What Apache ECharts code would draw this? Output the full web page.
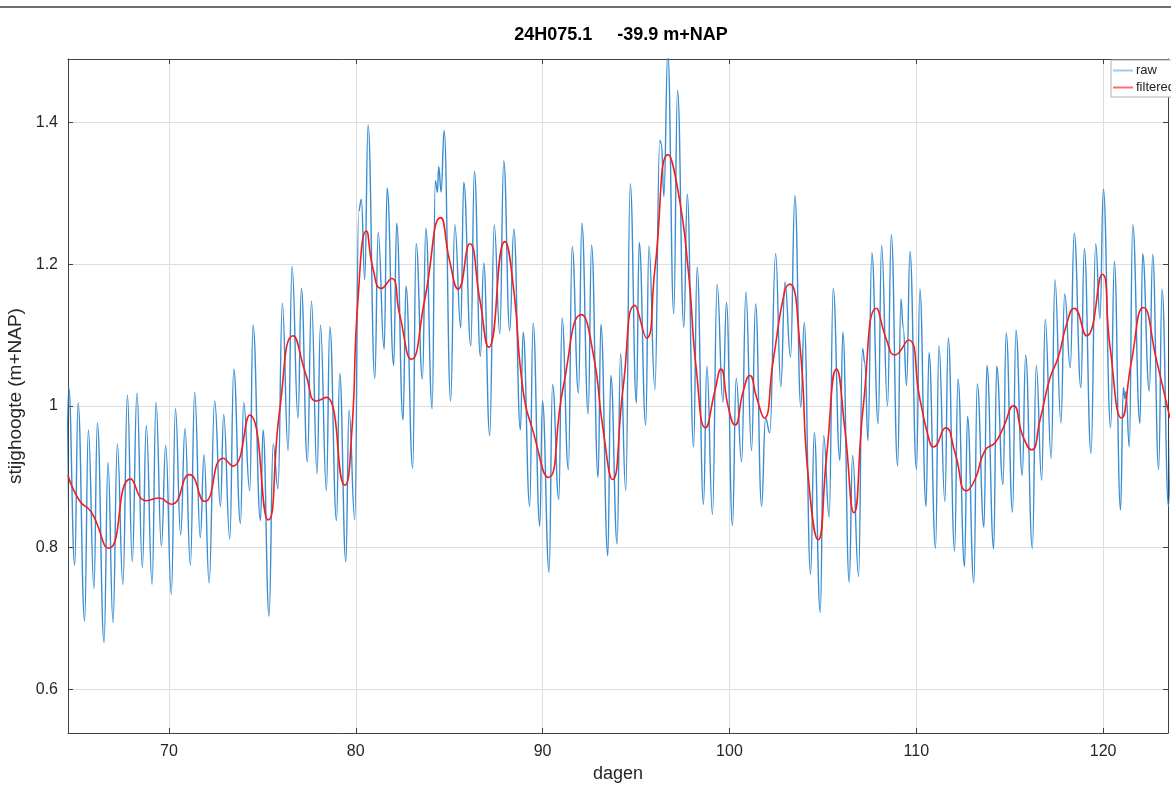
<!DOCTYPE html>
<html>
<head>
<meta charset="utf-8">
<script src="https://cdn.jsdelivr.net/npm/echarts@6/dist/echarts.min.js"></script>
<style>
html,body{margin:0;padding:0;background:#fff;}
#chart{width:1171px;height:793px;}
</style>
</head>
<body>
<div id="chart"></div>
<script>
var titleText = '24H075.1     -39.9 m+NAP';
var xTicks = [70, 80, 90, 100, 110, 120];
var yTicks = [0.6, 0.8, 1.0, 1.2, 1.4];
var seriesNames = ['raw', 'filtered'];

var rawDays = [64.50,64.64,64.96,65.14,65.49,65.69,65.99,66.17,66.53,66.74,67.01,67.24,67.54,67.78,68.04,68.29,68.58,68.79,69.10,69.31,69.60,69.83,70.13,70.35,70.63,70.86,71.15,71.38,71.68,71.88,72.15,72.45,72.76,72.93,73.26,73.47,73.83,74.00,74.33,74.50,74.90,75.04,75.36,75.58,75.84,76.07,76.38,76.59,76.91,77.09,77.41,77.63,77.93,78.11,78.43,78.61,78.97,79.14,79.47,79.64,79.95,80.16,80.30,80.48,80.66,81.02,81.20,81.52,81.68,82.03,82.19,82.53,82.69,83.05,83.23,83.57,83.75,84.09,84.26,84.37,84.44,84.57,84.73,85.08,85.30,85.62,85.78,86.16,86.35,86.67,86.85,87.17,87.41,87.71,87.92,88.24,88.46,88.81,88.96,89.31,89.49,89.85,89.99,90.35,90.53,90.87,91.04,91.38,91.58,91.92,92.10,92.44,92.62,92.97,93.12,93.49,93.65,93.99,94.17,94.45,94.69,95.02,95.17,95.52,95.69,96.01,96.27,96.36,96.49,96.70,97.02,97.22,97.56,97.74,98.08,98.27,98.61,98.79,99.09,99.34,99.65,99.84,100.16,100.36,100.65,100.88,101.18,101.40,101.72,101.93,102.16,102.47,102.75,102.97,103.27,103.50,103.82,104.00,104.34,104.54,104.86,105.04,105.34,105.55,105.91,106.07,106.41,106.59,106.91,107.12,107.25,107.41,107.62,107.96,108.14,108.46,108.66,109.00,109.18,109.30,109.48,109.66,110.01,110.19,110.52,110.68,111.03,111.21,111.53,111.71,112.05,112.23,112.58,112.74,113.08,113.26,113.62,113.78,114.14,114.30,114.64,114.81,115.15,115.33,115.67,115.85,116.21,116.42,116.71,116.90,117.22,117.42,117.74,117.94,118.24,118.45,118.81,118.99,119.35,119.60,119.83,120.01,120.40,120.60,120.93,121.08,121.17,121.22,121.40,121.58,121.97,122.11,122.47,122.65,122.97,123.15,123.50,123.66];
var rawValues = [0.823,1.026,0.775,1.004,0.696,0.966,0.742,0.976,0.666,0.920,0.694,0.946,0.748,1.015,0.780,1.018,0.772,0.972,0.748,1.005,0.802,0.944,0.734,0.996,0.818,0.968,0.775,1.019,0.814,0.931,0.750,1.007,0.858,0.988,0.812,1.052,0.834,1.005,0.880,1.114,0.838,0.966,0.703,0.946,0.883,1.145,0.937,1.197,0.983,1.166,0.921,1.148,0.904,1.114,0.880,1.112,0.838,1.046,0.780,0.994,0.839,1.275,1.292,1.178,1.397,1.039,1.245,1.080,1.308,1.057,1.258,0.980,1.169,0.912,1.229,1.038,1.251,0.996,1.318,1.302,1.338,1.302,1.389,1.007,1.256,1.110,1.316,1.085,1.331,1.070,1.202,0.958,1.256,1.102,1.346,1.106,1.250,0.966,1.104,0.858,1.117,0.830,1.007,0.765,1.030,0.868,1.124,0.910,1.225,1.018,1.258,0.989,1.227,0.899,1.115,0.788,1.043,0.805,1.074,0.880,1.314,1.004,1.231,0.973,1.226,1.023,1.375,1.370,1.296,1.500,1.130,1.446,1.111,1.299,0.942,1.196,0.861,1.056,0.847,1.172,1.005,1.146,0.831,1.039,0.921,1.161,0.937,1.144,0.858,0.983,0.962,1.215,1.027,1.175,1.069,1.297,0.998,1.118,0.762,0.962,0.708,0.958,0.843,1.166,0.923,1.104,0.751,0.930,0.759,1.081,1.060,0.951,1.216,0.975,1.227,1.000,1.242,0.915,1.151,1.110,1.029,1.218,0.910,1.165,0.858,1.075,0.799,1.085,0.865,1.096,0.795,1.038,0.773,0.985,0.750,1.031,0.829,1.057,0.798,1.056,0.889,1.103,0.850,1.107,0.902,1.072,0.799,1.057,0.895,1.122,0.926,1.178,0.976,1.158,1.054,1.244,1.026,1.222,0.933,1.229,1.123,1.306,0.969,1.204,0.853,1.026,1.010,1.020,0.942,1.256,0.975,1.215,1.021,1.214,0.910,1.165,0.858,1.070];

var filtDays = [64.60,65.22,65.85,66.79,67.95,68.79,69.45,70.13,71.11,71.92,72.90,73.43,74.33,75.31,75.93,76.65,77.36,77.89,78.43,79.41,79.77,80.12,80.57,80.93,81.37,81.91,82.35,82.98,83.69,84.55,85.03,85.48,86.10,86.64,87.12,87.98,88.42,88.96,89.49,90.30,91.10,92.08,92.70,93.24,93.74,94.31,94.94,95.56,96.01,96.72,97.26,97.79,98.24,98.72,99.22,99.54,99.93,100.29,100.74,101.09,101.45,101.86,102.34,102.97,103.23,103.77,104.21,104.75,105.20,105.73,106.18,106.66,107.16,107.87,108.41,108.85,109.57,110.19,110.73,110.91,111.57,112.07,112.69,113.14,113.67,114.21,114.65,115.19,115.72,116.17,116.62,117.15,117.60,118.04,118.45,119.11,119.95,120.36,120.99,121.52,122.15,122.86,123.57];
var filtValues = [0.902,0.866,0.850,0.799,0.897,0.866,0.870,0.861,0.903,0.865,0.926,0.915,0.987,0.839,0.994,1.099,1.042,1.007,1.012,0.888,0.956,1.150,1.247,1.193,1.166,1.180,1.129,1.066,1.150,1.266,1.204,1.165,1.229,1.150,1.083,1.232,1.172,1.021,0.964,0.899,1.026,1.129,1.075,0.966,0.896,1.026,1.142,1.096,1.193,1.355,1.302,1.193,1.048,0.969,1.021,1.052,0.999,0.973,1.021,1.043,1.012,0.983,1.064,1.164,1.172,1.086,0.902,0.811,0.929,1.052,0.966,0.849,0.999,1.138,1.093,1.072,1.093,1.010,0.948,0.942,0.969,0.934,0.880,0.896,0.937,0.948,0.969,1.000,0.956,0.938,0.980,1.039,1.069,1.115,1.138,1.099,1.186,1.085,0.983,1.064,1.139,1.064,0.983];

function zip(a, b) { return a.map(function (v, i) { return [v, b[i]]; }); }

var X_MIN = 64.6, X_MAX = 123.47, Y_MIN = 0.538, Y_MAX = 1.49;
var axisCol = '#404040';
var font = 'Liberation Sans, Arial, sans-serif';

var chart = echarts.init(document.getElementById('chart'), null, {renderer: 'canvas'});
chart.setOption({
  animation: false,
  backgroundColor: '#ffffff',
  title: {
    text: titleText, left: 616, top: 21, textAlign: 'center',
    textStyle: {fontFamily: font, fontSize: 18, fontWeight: 'bold', color: '#000'}
  },
  graphic: [{
    type: 'line', shape: {x1: 0, y1: 7, x2: 1171, y2: 7},
    style: {stroke: '#6e6e6e', lineWidth: 2}, silent: true
  }],
  legend: {
    orient: 'vertical', left: 1111, top: 60,
    padding: [4, 4, 3, 2], itemGap: 4, itemWidth: 20, itemHeight: 14,
    symbolKeepAspect: true,
    borderColor: '#b0b0b0', borderWidth: 1, backgroundColor: '#fff',
    textStyle: {fontFamily: font, fontSize: 13, color: '#222', padding: [0, 0, 0, -2]},
    data: [{name: seriesNames[0], icon: 'path://M0,0H20V2H0Z'}, {name: seriesNames[1], icon: 'path://M0,0H20V2H0Z'}]
  },
  grid: {left: 68, right: 3, top: 59, bottom: 60, containLabel: false, outerBoundsMode: 'none'},
  xAxis: [{
    type: 'value', min: X_MIN, max: X_MAX, position: 'bottom',
    name: 'dagen', nameLocation: 'middle', nameGap: 30,
    nameTextStyle: {fontFamily: font, fontSize: 18, color: '#262626'},
    axisLine: {show: true, onZero: false, lineStyle: {color: axisCol, width: 1}},
    axisTick: {show: true, inside: true, length: 5, customValues: xTicks, lineStyle: {color: axisCol}},
    axisLabel: {customValues: xTicks, margin: 11, fontFamily: font, fontSize: 16, color: '#262626'},
    splitLine: {show: true, lineStyle: {color: '#dedede', width: 1}}
  }, {
    type: 'value', min: X_MIN, max: X_MAX, position: 'top',
    axisLine: {show: true, onZero: false, lineStyle: {color: axisCol, width: 1}},
    axisTick: {show: true, inside: true, length: 5, customValues: xTicks, lineStyle: {color: axisCol}},
    axisLabel: {show: false}, splitLine: {show: false}
  }],
  yAxis: [{
    type: 'value', min: Y_MIN, max: Y_MAX, position: 'left',
    name: 'stijghoogte (m+NAP)', nameLocation: 'middle', nameGap: 40, nameRotate: 90,
    nameTextStyle: {fontFamily: font, fontSize: 19, color: '#262626'},
    axisLine: {show: true, onZero: false, lineStyle: {color: axisCol, width: 1}},
    axisTick: {show: true, inside: true, length: 5, customValues: yTicks, lineStyle: {color: axisCol}},
    axisLabel: {customValues: yTicks, margin: 10, fontFamily: font, fontSize: 16, color: '#262626',
      formatter: function (v) { return String(Math.round(v * 10) / 10); }},
    splitLine: {show: true, lineStyle: {color: '#dedede', width: 1}}
  }, {
    type: 'value', min: Y_MIN, max: Y_MAX, position: 'right',
    axisLine: {show: true, onZero: false, lineStyle: {color: axisCol, width: 1}},
    axisTick: {show: true, inside: true, length: 5, customValues: yTicks, lineStyle: {color: axisCol}},
    axisLabel: {show: false}, splitLine: {show: false}
  }],
  series: [{
    name: seriesNames[0], type: 'line', xAxisIndex: 0, yAxisIndex: 0,
    data: zip(rawDays, rawValues), showSymbol: false, symbol: 'none',
    smooth: 0.45, smoothMonotone: 'x', clip: true,
    lineStyle: {color: '#3a8dd0', width: 1.4}, itemStyle: {color: '#9ccbef'}, z: 2
  }, {
    name: seriesNames[1], type: 'line', xAxisIndex: 0, yAxisIndex: 0,
    data: zip(filtDays, filtValues), showSymbol: false, symbol: 'none',
    smooth: 0.55, clip: true,
    lineStyle: {color: '#f21d1d', width: 1.6}, itemStyle: {color: '#ff6e6e'}, z: 3
  }]
});
</script>
</body>
</html>
